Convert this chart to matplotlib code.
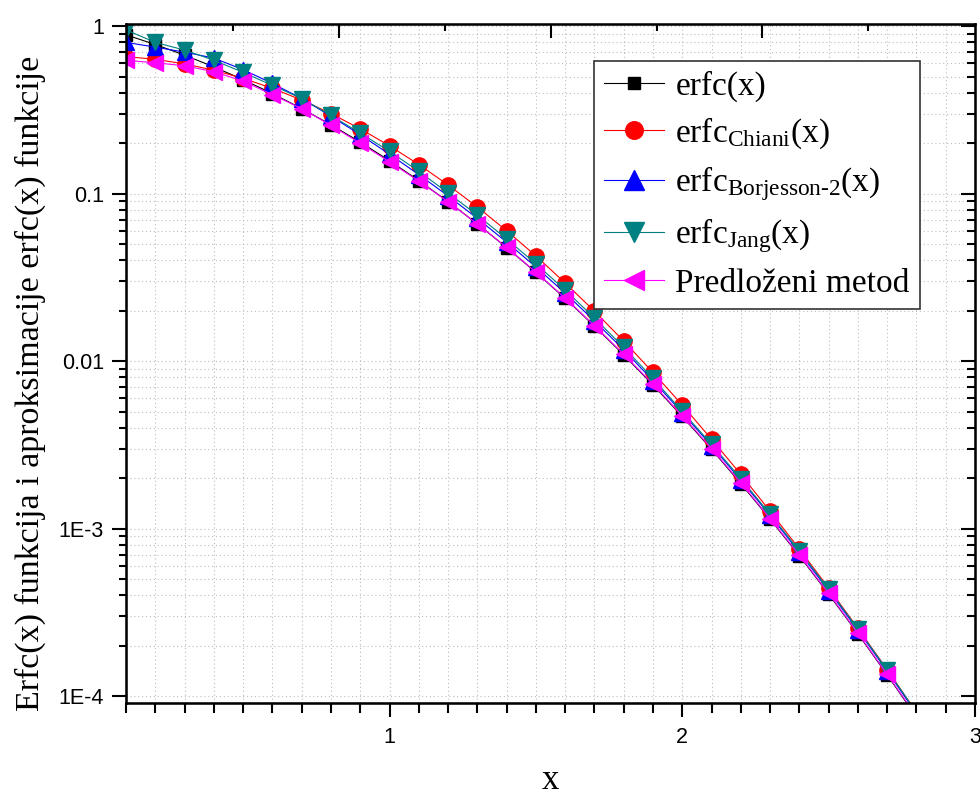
import matplotlib
matplotlib.use("Agg")
import matplotlib.pyplot as plt
from matplotlib.ticker import FixedLocator, FuncFormatter, LogLocator, NullFormatter, MultipleLocator

plt.rcParams['mathtext.fontset'] = 'custom'
plt.rcParams['mathtext.rm'] = 'Liberation Serif'
plt.rcParams['mathtext.it'] = 'Liberation Serif:italic'

x = [0.1, 0.2, 0.3, 0.4, 0.5, 0.6, 0.7, 0.8, 0.9, 1.0,
     1.1, 1.2, 1.3, 1.4, 1.5, 1.6, 1.7, 1.8, 1.9, 2.0,
     2.1, 2.2, 2.3, 2.4, 2.5, 2.6, 2.7, 2.8]

erfc = [0.8875, 0.7773, 0.6714, 0.5716, 0.4795, 0.3961, 0.3222, 0.2579, 0.2031, 0.1573,
        0.1198, 0.0897, 0.0660, 0.0477, 0.0339, 0.0237, 0.0162, 0.0109, 0.00721, 0.00468,
        0.00298, 0.00186, 0.00114, 0.000689, 0.000407, 0.000236, 0.000134, 0.0000750]

chiani = [0.6584, 0.6342, 0.5958, 0.5460, 0.4881, 0.4257, 0.3623, 0.3009, 0.2439, 0.1931,
          0.1493, 0.1128, 0.0833, 0.0601, 0.0425, 0.0293, 0.0199, 0.01318, 0.00857, 0.00547,
          0.00342, 0.00211, 0.00127, 0.000756, 0.000442, 0.000254, 0.000144, 0.0000800]

borjesson = [0.80, 0.75, 0.70, 0.645, 0.55, 0.455, 0.37, 0.29, 0.225, 0.172,
             0.130, 0.097, 0.0712, 0.0514, 0.0365, 0.0255, 0.0174, 0.0117, 0.00765, 0.00492,
             0.00313, 0.00195, 0.00120, 0.000723, 0.000427, 0.000248, 0.000141, 0.0000788]

jang = [0.95, 0.80, 0.72, 0.626, 0.53, 0.443, 0.37, 0.293, 0.230, 0.179,
        0.136, 0.101, 0.0745, 0.0537, 0.0381, 0.0266, 0.0181, 0.0121, 0.0079, 0.00501,
        0.00319, 0.00199, 0.00122, 0.000737, 0.000435, 0.000252, 0.000143, 0.0000802]

predlozeni = [0.625, 0.605, 0.580, 0.535, 0.470, 0.390, 0.322, 0.256, 0.200, 0.155,
              0.119, 0.0895, 0.0660, 0.0478, 0.0340, 0.0238, 0.0163, 0.0110, 0.00728, 0.00473,
              0.00301, 0.00188, 0.00115, 0.000696, 0.000411, 0.000238, 0.000135, 0.0000758]

y_ticks = [1, 0.1, 0.01, 1e-3, 1e-4]
y_tick_labels = ['1', '0.1', '0.01', '1E-3', '1E-4']
top_major = [0.828, 1.551, 2.274]
top_minor = [0.466, 1.190, 1.913, 2.636]

fig = plt.figure(figsize=(9.8, 7.96), dpi=100)
ax = fig.add_axes([0.1286, 0.1168, 0.8663, 0.853])

lw = 0.8
ax.plot(x, erfc, color='black', marker='s', ms=8, lw=lw, label='erfc(x)')
ax.plot(x, chiani, color='#ff0000', marker='o', ms=11, lw=lw,
        label='erfc$_{\\mathrm{Chiani}}$(x)')
ax.plot(x, borjesson, color='#0000ff', marker='^', ms=12, lw=lw,
        label='erfc$_{\\text{Borjesson-2}}$(x)')
ax.plot(x, jang, color='#008080', marker='v', ms=12, lw=lw,
        label='erfc$_{\\mathrm{Jang}}$(x)')
ax.plot(x, predlozeni, color='#ff00ff', marker='<', ms=12, lw=lw,
        label='Predloženi metod')

ax.set_yscale('log')
ax.set_xlim(0.1, 3.0)
ax.set_ylim(9.1e-5, 1.03)

ax.yaxis.set_major_locator(FixedLocator(y_ticks))
ax.yaxis.set_major_formatter(FuncFormatter(lambda v, p: y_tick_labels[y_ticks.index(v)] if v in y_ticks else ''))
ax.yaxis.set_minor_locator(LogLocator(base=10, subs=range(2, 10)))
ax.yaxis.set_minor_formatter(NullFormatter())
ax.xaxis.set_major_locator(FixedLocator([1, 2, 3]))
ax.xaxis.set_major_formatter(FuncFormatter(lambda v, p: '%d' % v))
ax.xaxis.set_minor_locator(MultipleLocator(0.1))

ax.grid(True, which='both', color='#bdbdbd', linestyle=(0, (1, 2.5)), linewidth=0.8)
ax.set_axisbelow(True)

for s in ax.spines.values():
    s.set_linewidth(1.8)
ax.tick_params(axis='both', which='both', direction='out', width=1.5,
               labelfontfamily='Liberation Sans', labelsize=15.5)
ax.tick_params(axis='y', which='major', length=10, pad=6)
ax.tick_params(axis='y', which='minor', length=5)
ax.tick_params(axis='x', which='major', length=10, pad=7)
ax.tick_params(axis='x', which='minor', length=7)

# inward ticks on the right and top frame
axr = ax.twinx()
axr.set_yscale('log')
axr.set_ylim(ax.get_ylim())
axr.yaxis.set_major_locator(FixedLocator(y_ticks))
axr.yaxis.set_minor_locator(LogLocator(base=10, subs=range(2, 10)))
axr.tick_params(axis='y', which='both', direction='in', width=1.5, labelright=False)
axr.tick_params(axis='y', which='major', length=10)
axr.tick_params(axis='y', which='minor', length=6)

axt = ax.twiny()
axt.set_xlim(ax.get_xlim())
axt.xaxis.set_major_locator(FixedLocator(top_major))
axt.xaxis.set_minor_locator(FixedLocator(top_minor))
axt.tick_params(axis='x', which='both', direction='in', width=1.5, labeltop=False)
axt.tick_params(axis='x', which='major', length=10)
axt.tick_params(axis='x', which='minor', length=5)

leg = ax.legend(loc='upper right', bbox_to_anchor=(0.935, 0.946), borderaxespad=0,
                prop={'family': 'Liberation Serif', 'size': 24}, fancybox=False,
                edgecolor='#333333', framealpha=1, handlelength=1.8, handletextpad=0.35,
                borderpad=0.3, labelspacing=0.4, markerscale=1.15)
leg.get_frame().set_linewidth(1.2)
# keep the legend above the twin axes
leg.remove()
axt.add_artist(leg)

fig.text(30 / 980, 1 - 383 / 796, 'Erfc(x) funkcija i aproksimacije erfc(x) funkcije',
         rotation=90, ha='center', va='center', family='Liberation Serif', fontsize=24.5)
fig.text(550 / 980, 1 - 789 / 796, 'x', ha='center', va='baseline',
         family='Liberation Serif', fontsize=25)

fig.savefig('out.png', dpi=100)
